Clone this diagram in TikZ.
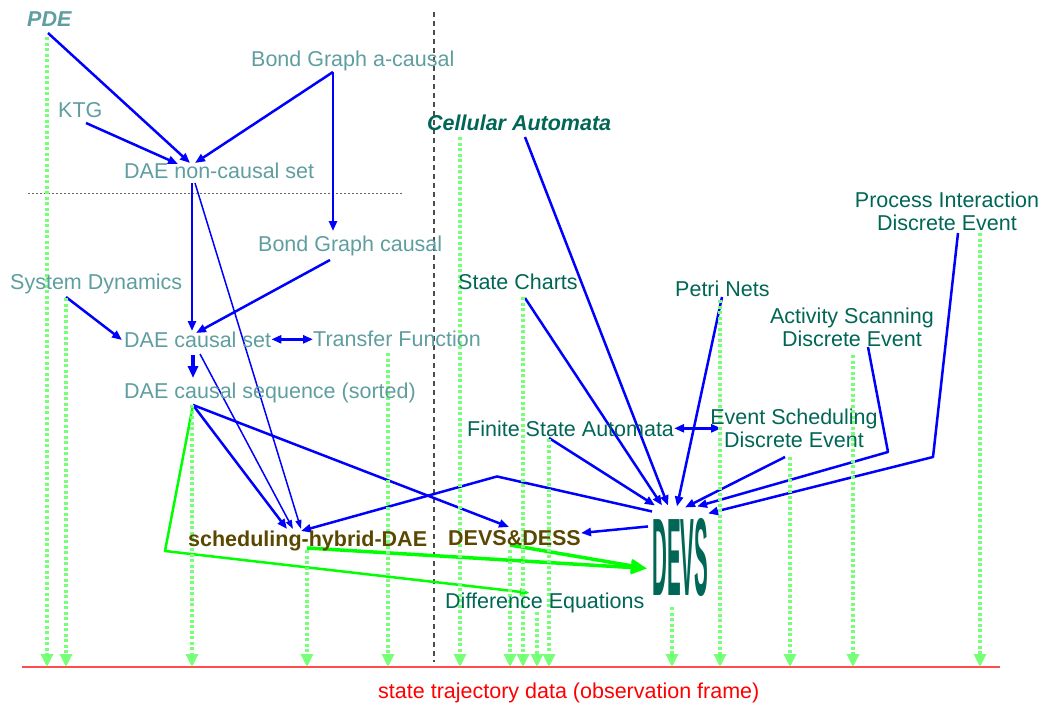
\documentclass[tikz,border=0pt]{standalone}
\usepackage{fontspec}
\setmainfont{Liberation Sans}
\usepackage{graphicx}
\usetikzlibrary{arrows.meta}

\definecolor{contteal}{RGB}{95,158,160}
\definecolor{discgreen}{RGB}{0,102,85}
\definecolor{hybolive}{RGB}{90,72,0}
\definecolor{linkblue}{RGB}{0,0,255}
\definecolor{embgreen}{RGB}{0,255,0}
\definecolor{obsgreen}{RGB}{120,255,120}
\definecolor{framered}{RGB}{255,0,0}

\newcommand{\labfont}{\fontsize{21.5}{23}\selectfont}

\pgfdeclarelayer{front}
\pgfsetlayers{main,front}

\tikzset{
  >={Triangle[length=10pt,width=8pt]},
  lab/.style={inner sep=0pt, anchor=base west, font=\labfont},
  cont/.style={lab, text=contteal},
  disc/.style={lab, text=discgreen},
  hyb/.style={lab, text=hybolive, font=\labfont\bfseries},
  link/.style={draw=linkblue, line width=2.5pt, line join=round, ->},
  thinlink/.style={link, line width=1.5pt, -{Triangle[length=9pt,width=6pt]}},
  embed/.style={draw=embgreen, line width=2.5pt, line join=round, -{Triangle[length=10pt,width=7pt]}},
  embedstrong/.style={embed, line width=3.5pt, -{Triangle[length=16pt,width=13pt]}},
  obs/.style={draw=obsgreen, line width=3.5pt, dash pattern=on 3pt off 2.5pt, -{Triangle[length=13pt,width=12pt]}},
}

\begin{document}
\begin{tikzpicture}[x=1pt,y=-1pt]
  \useasboundingbox (0,0) rectangle (1043,704);

  % separators
  \draw[black!70, line width=1.2pt, dash pattern=on 5pt off 4pt] (434,12) -- (434,662);
  \draw[black!60, line width=1pt, dash pattern=on 2pt off 2pt] (28,193) -- (402,193);

  \begin{pgfonlayer}{front}
  % continuous formalisms
  \node[cont, font=\labfont\bfseries\itshape] (pde) at (27,27) {PDE};
  \node[cont] (bga) at (251,66) {Bond Graph a-causal};
  \node[cont] (ktg) at (58,117) {KTG};
  \node[cont] (dnc) at (124,178) {DAE non-causal set};
  \node[cont] (bgc) at (258,251) {Bond Graph causal};
  \node[cont] (sd) at (10,289) {System Dynamics};
  \node[cont] (dcs) at (124,347) {DAE causal set};
  \node[cont] (tf) at (313,346) {Transfer Function};
  \node[cont] (dseq) at (124,398) {DAE causal sequence (sorted)};

  % discrete formalisms
  \node[disc, font=\labfont\bfseries\itshape] (ca) at (427,130) {Cellular Automata};
  \node[disc] (sc) at (458,289) {State Charts};
  \node[disc] (pn) at (675,296) {Petri Nets};
  \node[disc, anchor=north, align=center] (pi) at (947,192) {Process Interaction\\Discrete Event};
  \node[disc, anchor=north, align=center] (as) at (852,308) {Activity Scanning\\Discrete Event};
  \node[disc, anchor=north, align=center] (es) at (794,409) {Event Scheduling\\Discrete Event};
  \node[disc] (fsa) at (467,436) {Finite State Automata};
  \node[disc] (deq) at (445,608) {Difference Equations};
  \node[inner sep=0pt, anchor=south west, text=discgreen] (devs) at (652,597) {\resizebox{56pt}{77pt}{\bfseries DEVS}};

  % hybrid
  \node[hyb] (shd) at (188,546) {scheduling-hybrid-DAE};
  \node[hyb] (dd) at (448,545) {DEVS\&DESS};

  % observation frame
  \node[lab, text=framered] (fr) at (378,698) {state trajectory data (observation frame)};
  \end{pgfonlayer}

  \coordinate (frame) at (22,667);
  \draw[framered!70, line width=1.5pt] (frame) -- ++(978,0);

  % continuous links
  \draw[link] ([shift={(21,6)}]pde.base west) -- ([shift={(66,-15)}]dnc.base west);
  \draw[link] ([shift={(28,6)}]ktg.base west) -- ([shift={(54,-14)}]dnc.base west);
  \draw[link] ([shift={(82,6)}]bga.base west) -- ([shift={(71,-15)}]dnc.base west);
  \draw[link] ([shift={(82,6)}]bga.base west) -- ([shift={(75,-20)}]bgc.base west);
  \draw[link] ([shift={(68,5)}]dnc.base west) -- ([shift={(68,-16)}]dcs.base west);
  \draw[link] ([shift={(72,9)}]bgc.base west) -- ([shift={(72,-14)}]dcs.base west);
  \draw[link] ([shift={(56,8)}]sd.base west) -- ([shift={(-2,-7)}]dcs.base west);
  \draw[link, <->] (dcs.east) -- (tf.west |- dcs.east);
  \draw[link, line width=4pt, -{Triangle[length=12pt,width=10pt]}] ([shift={(69,8)}]dcs.base west) -- ([shift={(69,-20)}]dseq.base west);
  \draw[thinlink] ([shift={(71,5)}]dnc.base west) -- ([shift={(113,-17)}]shd.base west);
  \draw[thinlink] ([shift={(76,7)}]dcs.base west) -- ([shift={(105,-17)}]shd.base west);
  \draw[link] ([shift={(69,7)}]dseq.base west) -- ([shift={(99,-17)}]shd.base west);
  \draw[link] ([shift={(69,7)}]dseq.base west) -- ([shift={(61,-18)}]dd.base west);

  % discrete links into DEVS
  \draw[link] ([shift={(98,7)}]ca.base west) -- ([shift={(16,-13)}]devs.north west);
  \draw[link] ([shift={(67,9)}]sc.base west) -- ([shift={(10,-13)}]devs.north west);
  \draw[link] ([shift={(82,2)}]fsa.base west) -- ([shift={(3,-13)}]devs.north west);
  \draw[link] ([shift={(47,1)}]pn.base west) -- ([shift={(25,-12)}]devs.north west);
  \draw[link] ([shift={(-9,48)}]es.north) -- ([shift={(33,-11)}]devs.north west);
  \draw[link] ([shift={(16,39)}]as.north) -- ++(20,105) -- ([shift={(45,-12)}]devs.north west);
  \draw[link] ([shift={(11,41)}]pi.north) -- ++(-25,224) -- ([shift={(56,-5)}]devs.north west);
  \draw[link, <->] (fsa.east) -- ([xshift=11pt]es.west |- fsa.east);

  % DEVS out to hybrid
  \draw[link] ([shift={(0,-7)}]devs.north west) -- ++(-155,-35) -- ([shift={(113,-15)}]shd.base west);
  \draw[link] ([shift={(-4,8)}]devs.north west) -- ([shift={(133,-12)}]dd.base west);

  % embeddings
  \draw[embed] ([shift={(69,7)}]dseq.base west) -- ++(-28,146) -- ([shift={(85,-15)}]deq.base west);
  \draw[embedstrong] ([shift={(119,2)}]shd.base west) -- ([shift={(-5,50)}]devs.north west);
  \draw[embedstrong] ([shift={(62,0)}]dd.base west) -- ([shift={(-5,50)}]devs.north west);

  % observation drop lines
  \foreach \n/\dx/\dy in {pde.base west/20/10, sd.base west/56/9, dseq.base west/68/7,
      shd.base west/119/4, tf.base west/75/7, ca.base west/33/7, dd.base west/62/5,
      sc.base west/65/8, deq.base west/92/4, fsa.base west/82/3, devs.south west/20/10,
      pn.base west/45/4, es.north/-4/48, as.north/1/47, pi.north/33/41}
  {
    \path ([shift={(\dx,\dy)}]\n) coordinate (top);
    \draw[obs] (top) -- (top |- frame);
  }
\end{tikzpicture}
\end{document}
